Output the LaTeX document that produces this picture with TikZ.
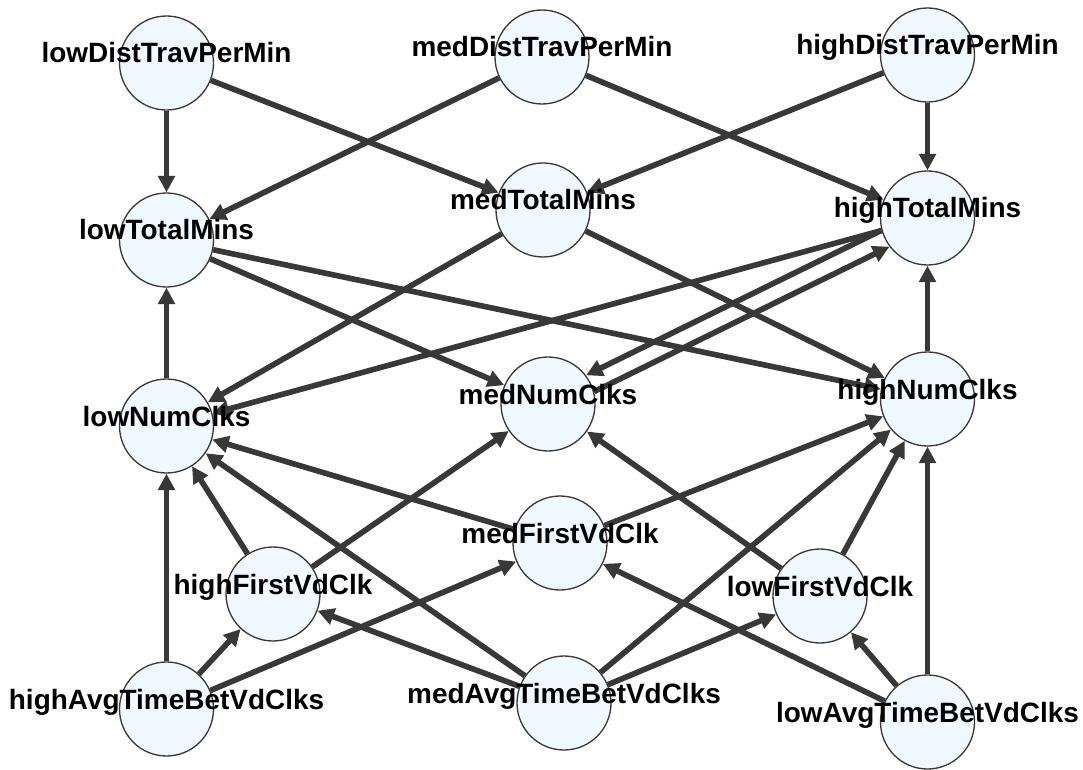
\documentclass[tikz,border=0pt]{standalone}
\usepackage{fontspec}
\setmainfont{Liberation Sans}
\usetikzlibrary{arrows.meta}
\definecolor{varFill}{HTML}{F0F8FF}
\definecolor{linkGray}{HTML}{383838}

\begin{document}
\begin{tikzpicture}[font={\fontsize{15.9}{18}\selectfont\bfseries},var/.style={circle, draw=black!78, line width=0.75pt, fill=varFill, minimum size=1.88cm, inner sep=0pt},link/.style={-{Triangle[length=0.33cm,width=0.33cm]}, line width=3.2pt, draw=linkGray},lbl/.style={anchor=base, inner sep=0pt}]
\useasboundingbox (0,0) rectangle (21.66,15.38);
\node[var] (lowDist) at (3.33,14.12) {};
\node[var] (medDist) at (10.84,14.24) {};
\node[var] (highDist) at (18.55,14.28) {};
\node[var] (lowTotal) at (3.33,10.58) {};
\node[var] (medTotal) at (10.86,11.18) {};
\node[var] (highTotal) at (18.55,11.02) {};
\node[var] (lowNum) at (3.33,6.86) {};
\node[var] (medNum) at (10.96,7.30) {};
\node[var] (highNum) at (18.55,7.40) {};
\node[var] (medFirst) at (11.20,4.52) {};
\node[var] (highFirst) at (5.46,3.50) {};
\node[var] (lowFirst) at (16.40,3.46) {};
\node[var] (highAvg) at (3.33,1.20) {};
\node[var] (medAvg) at (11.28,1.32) {};
\node[var] (lowAvg) at (18.55,0.94) {};
\foreach \a/\b in {lowDist/lowTotal,lowDist/medTotal,medDist/lowTotal,medDist/highTotal,highDist/medTotal,highDist/highTotal,lowNum/lowTotal,highNum/highTotal,lowTotal/medNum,lowTotal/highNum,medTotal/lowNum,medTotal/highNum,highTotal/lowNum,medFirst/lowNum,medFirst/highNum,highFirst/lowNum,highFirst/medNum,lowFirst/medNum,lowFirst/highNum,highAvg/lowNum,highAvg/highFirst,highAvg/medFirst,medAvg/lowNum,medAvg/highFirst,medAvg/highNum,medAvg/lowFirst,lowAvg/highNum,lowAvg/lowFirst,lowAvg/medFirst}\draw[link] (\a) -- (\b);
\draw[link] (highTotal.195) -- (medNum.37);
\draw[link] (medNum.15) -- (highTotal.217);
\foreach \n/\t in {lowDist/lowDistTravPerMin,medDist/medDistTravPerMin,highDist/highDistTravPerMin,lowTotal/lowTotalMins,medTotal/medTotalMins,highTotal/highTotalMins,lowNum/lowNumClks,medNum/medNumClks,highNum/highNumClks,medFirst/medFirstVdClk,highFirst/highFirstVdClk,lowFirst/lowFirstVdClk,highAvg/highAvgTimeBetVdClks,medAvg/medAvgTimeBetVdClks,lowAvg/lowAvgTimeBetVdClks}\node[lbl] (\n-t) at (\n.center) {\t};
\end{tikzpicture}
\end{document}
